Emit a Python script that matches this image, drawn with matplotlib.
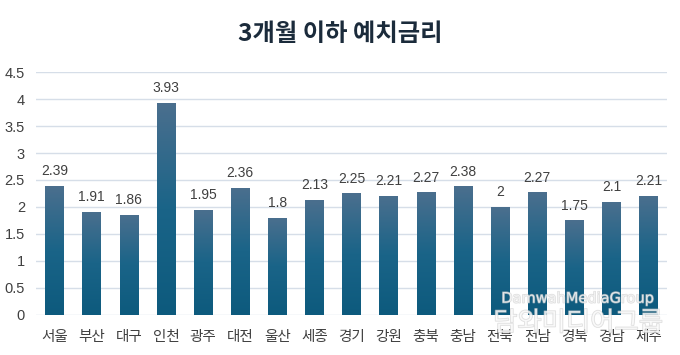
import numpy as np
import matplotlib
matplotlib.use('Agg')
import matplotlib.pyplot as plt
import matplotlib.patheffects as pe
from matplotlib.colors import LinearSegmentedColormap

plt.rcParams['font.family'] = ['Noto Sans CJK KR', 'DejaVu Sans']

# 데이터
regions = ['서울', '부산', '대구', '인천', '광주', '대전', '울산', '세종', '경기',
           '강원', '충북', '충남', '전북', '전남', '경북', '경남', '제주']
rates = [2.39, 1.91, 1.86, 3.93, 1.95, 2.36, 1.8, 2.13, 2.25,
         2.21, 2.27, 2.38, 2, 2.27, 1.75, 2.1, 2.21]
rate_labels = ['2.39', '1.91', '1.86', '3.93', '1.95', '2.36', '1.8', '2.13', '2.25',
               '2.21', '2.27', '2.38', '2', '2.27', '1.75', '2.1', '2.21']
yticks = [0, 0.5, 1, 1.5, 2, 2.5, 3, 3.5, 4, 4.5]
ytick_labels = ['0', '0.5', '1', '1.5', '2', '2.5', '3', '3.5', '4', '4.5']

fig = plt.figure(figsize=(6.8, 3.55), dpi=100)
ax = fig.add_axes([0.053, 0.113, 0.928, 0.684])

x = np.arange(len(regions))
bars = ax.bar(x, rates, width=0.5, color='none', edgecolor='none', zorder=3)

# 막대 그라데이션 (위: 밝은 회청색, 아래: 진한 청록)
cmap = LinearSegmentedColormap.from_list('barfill', ['#0d5a7d', '#1a6488', '#4b6f8e'])
grad = np.linspace(0, 1, 256).reshape(-1, 1)
for b in bars:
    x0, y0 = b.get_x(), b.get_y()
    w, h = b.get_width(), b.get_height()
    im = ax.imshow(grad, cmap=cmap, aspect='auto', origin='lower',
                   extent=[x0, x0 + w, y0, y0 + h], zorder=3)
    im.set_clip_path(b)

for xi, v, lab in zip(x, rates, rate_labels):
    ax.text(xi, v + 0.14, lab, ha='center', va='bottom', fontsize=10,
            color='#404040', family=['Liberation Sans', 'DejaVu Sans'], zorder=4)

ax.set_xlim(-0.5, len(regions) - 0.5)
ax.set_ylim(0, 4.5)
ax.set_yticks(yticks)
ax.set_yticklabels(ytick_labels, family=['Liberation Sans', 'DejaVu Sans'])
ax.set_xticks(x)
ax.set_xticklabels(regions)
ax.tick_params(axis='y', length=0, pad=8, labelsize=10.5, labelcolor='#404040')
ax.tick_params(axis='x', length=0, pad=11, labelsize=10.5, labelcolor='#404040')
ax.grid(axis='y', color='#d6dee8', linewidth=1, zorder=0)
for s in ax.spines.values():
    s.set_visible(False)

fig.text(0.5, 0.905, '3개월 이하 예치금리', ha='center', va='center',
         fontsize=17.5, fontweight='bold', color='#1b2b3b')

# 워터마크
halo = [pe.withStroke(linewidth=1.0, foreground='#c8c8c8')]
fig.text(0.850, 0.160, 'DamwahMediaGroup', ha='center', va='center', fontsize=10.5,
         color='white', alpha=0.6, family=['DejaVu Sans'], zorder=10,
         path_effects=halo)
fig.text(0.850, 0.090, '담와미디어그룹', ha='center', va='center', fontsize=19,
         color='white', alpha=0.6, zorder=10, path_effects=halo)

fig.savefig('out.png', dpi=100)
